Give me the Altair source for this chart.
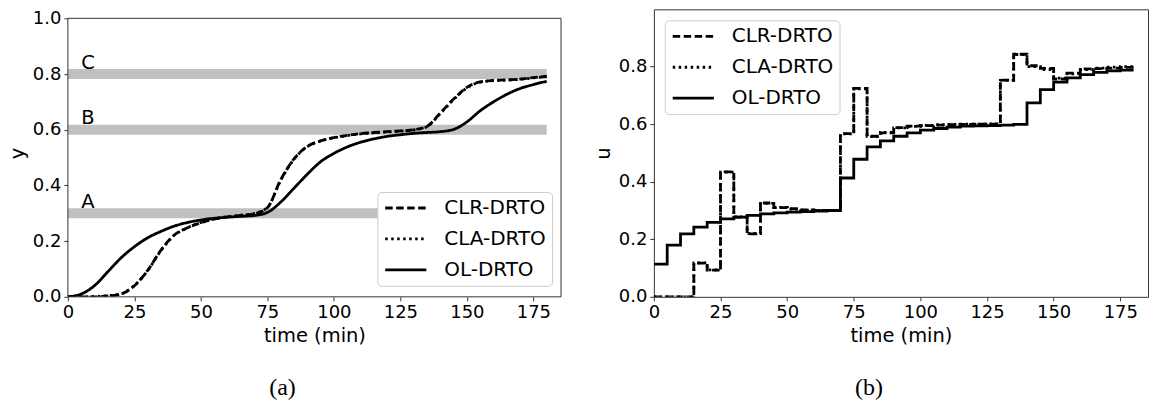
import altair as alt
import pandas as pd

SERIES = ["CLR-DRTO", "CLA-DRTO", "OL-DRTO"]
DASHES = [[7.5, 3.5], [2.5, 3.5], [1, 0]]

# ---- panel (a): output y ----
t_y = [0, 5, 10, 15, 20, 25, 30, 35, 40, 45, 50, 55, 60, 65, 70, 75, 80, 85, 90,
       95, 100, 105, 110, 115, 120, 125, 130, 135, 140, 145, 150, 155, 160, 165,
       170, 175, 180]
y_clr = [0.0, 0.0, 0.0, 0.003, 0.01, 0.04, 0.095, 0.168, 0.222, 0.248, 0.266,
         0.279, 0.287, 0.292, 0.298, 0.32, 0.42, 0.495, 0.54, 0.56, 0.572, 0.58,
         0.586, 0.59, 0.593, 0.596, 0.6, 0.612, 0.66, 0.71, 0.752, 0.772, 0.777,
         0.779, 0.782, 0.787, 0.792]
y_cla = [0.0, 0.0, 0.001, 0.004, 0.011, 0.041, 0.094, 0.166, 0.221, 0.248, 0.267,
         0.28, 0.288, 0.293, 0.299, 0.321, 0.418, 0.494, 0.539, 0.559, 0.571, 0.579,
         0.585, 0.589, 0.592, 0.595, 0.599, 0.611, 0.658, 0.708, 0.75, 0.771, 0.776,
         0.778, 0.781, 0.786, 0.791]
y_ol = [0.0, 0.01, 0.04, 0.09, 0.14, 0.18, 0.212, 0.235, 0.254, 0.267, 0.276,
        0.282, 0.286, 0.289, 0.292, 0.303, 0.34, 0.39, 0.44, 0.485, 0.515, 0.538,
        0.555, 0.567, 0.576, 0.582, 0.587, 0.59, 0.593, 0.601, 0.628, 0.668, 0.7,
        0.727, 0.748, 0.762, 0.774]

band_levels = [0.3, 0.6, 0.8]
band_labels = ["A", "B", "C"]
band_half = 0.018
band_start, band_end = 0, 180
label_x = 5
label_lift = 0.019

# ---- panel (b): input u (piecewise constant, 5 min intervals) ----
t_u = [0, 5, 10, 15, 20, 25, 30, 35, 40, 45, 50, 55, 60, 65, 70, 75, 80, 85, 90,
       95, 100, 105, 110, 115, 120, 125, 130, 135, 140, 145, 150, 155, 160, 165,
       170, 175]
t_u_end = 180
u_clr = [0.0, 0.0, 0.0, 0.117, 0.093, 0.434, 0.277, 0.219, 0.326, 0.31, 0.306,
         0.302, 0.3, 0.3, 0.567, 0.724, 0.558, 0.57, 0.588, 0.593, 0.595, 0.597,
         0.598, 0.599, 0.6, 0.6, 0.753, 0.843, 0.803, 0.794, 0.757, 0.777, 0.792,
         0.793, 0.795, 0.797]
u_cla = [0.0, 0.0, 0.0, 0.118, 0.094, 0.433, 0.278, 0.22, 0.325, 0.311, 0.305,
         0.301, 0.3, 0.3, 0.566, 0.723, 0.557, 0.571, 0.587, 0.592, 0.596, 0.598,
         0.599, 0.6, 0.6, 0.601, 0.752, 0.842, 0.8, 0.79, 0.76, 0.775, 0.79,
         0.795, 0.798, 0.8]
u_ol = [0.114, 0.18, 0.219, 0.242, 0.259, 0.271, 0.277, 0.283, 0.288, 0.292, 0.294,
        0.296, 0.298, 0.3, 0.413, 0.478, 0.521, 0.542, 0.558, 0.57, 0.579, 0.585,
        0.59, 0.593, 0.594, 0.595, 0.597, 0.599, 0.674, 0.72, 0.746, 0.761, 0.772,
        0.78, 0.785, 0.788]

x_ticks = [0, 25, 50, 75, 100, 125, 150, 175]
y_ticks_a = [0.0, 0.2, 0.4, 0.6, 0.8, 1.0]
y_ticks_b = [0.0, 0.2, 0.4, 0.6, 0.8]
x_max = 185.4
y_max_a = 1.0            # top of panel (a) frame
y_scale_top_a = 288 / 279  # panel (a) scale extends above its frame
y_max_b = 0.999

FONT = "DejaVu Sans"
TICK_FS = 18
TITLE_FS = 19.5
LEG_FS = 20
LINE_W = 2.8
EDGE = "#333333"


def long_frame(times, cols):
    rows = []
    for name, vals in zip(SERIES, cols):
        for ti, v in zip(times, vals):
            rows.append({"time": ti, "value": v, "series": name})
    return pd.DataFrame(rows)


df_y = long_frame(t_y, [y_clr, y_cla, y_ol])
df_u = long_frame(t_u + [t_u_end], [v + [v[-1]] for v in (u_clr, u_cla, u_ol)])
df_band = pd.DataFrame({
    "lo": [b - band_half for b in band_levels],
    "hi": [b + band_half for b in band_levels],
    "ly": [b + label_lift for b in band_levels],
    "x0": [band_start] * 3,
    "x1": [band_end] * 3,
    "lx": [label_x] * 3,
    "label": band_labels,
})
df_frame = pd.DataFrame({"x0": [0], "x1": [x_max], "y0": [0], "y1": [y_max_a]})


def legend(lx, ly):
    return alt.Legend(
        title=None, orient="none", legendX=lx, legendY=ly,
        symbolType="stroke", symbolSize=1700, symbolStrokeWidth=LINE_W,
        symbolStrokeColor="black", labelFontSize=LEG_FS, labelFont=FONT,
        labelColor="black", labelOffset=16, padding=6, rowPadding=11,
        clipHeight=20,
        fillColor="white", strokeColor="#cccccc", cornerRadius=4,
    )


def x_axis():
    return alt.Axis(title="time (min)", values=x_ticks, format="d", labelFlush=False)


def caption(text):
    return alt.TitleParams(text, orient="bottom", font="Liberation Serif",
                           fontSize=24, fontWeight="normal", color="black",
                           offset=31, anchor="middle", dx=-32)


xs = alt.Scale(domain=[0, x_max], nice=False, zero=False)
ys_a = alt.Scale(domain=[0, y_scale_top_a], nice=False)

# ---- panel (a) ----
bands = alt.Chart(df_band).mark_rect(color="#c0c0c0").encode(
    x=alt.X("x0:Q", scale=xs, axis=x_axis()),
    x2="x1:Q",
    y=alt.Y("lo:Q", scale=ys_a,
            axis=alt.Axis(title="y", values=y_ticks_a, format=".1f", labelFlush=False)),
    y2="hi:Q",
)
band_text = alt.Chart(df_band).mark_text(
    align="left", baseline="alphabetic", fontSize=TITLE_FS, font=FONT, color="black"
).encode(x=alt.X("lx:Q", scale=xs), y=alt.Y("ly:Q", scale=ys_a), text="label:N")

lines_a = alt.Chart(df_y).mark_line(
    color="black", strokeWidth=LINE_W, interpolate="monotone", clip=True
).encode(
    x=alt.X("time:Q", scale=xs, axis=x_axis()),
    y=alt.Y("value:Q", scale=ys_a,
            axis=alt.Axis(title="y", values=y_ticks_a, format=".1f", labelFlush=False)),
    strokeDash=alt.StrokeDash("series:N",
                              scale=alt.Scale(domain=SERIES, range=DASHES),
                              legend=legend(310, 183)),
    detail="series:N",
)

frame_a = alt.Chart(df_frame).mark_rect(
    fillOpacity=0, stroke=EDGE, strokeWidth=1
).encode(
    x=alt.X("x0:Q", scale=xs), x2="x1:Q",
    y=alt.Y("y0:Q", scale=ys_a), y2="y1:Q",
)

panel_a = alt.layer(bands, band_text, lines_a, frame_a).properties(
    width=494, height=288,
    view=alt.ViewBackground(stroke="transparent"),
    title=caption("(a)"),
)

# ---- panel (b) ----
lines_b = alt.Chart(df_u).mark_line(
    color="black", strokeWidth=LINE_W, interpolate="step-after", clip=True
).encode(
    x=alt.X("time:Q", scale=xs, axis=x_axis()),
    y=alt.Y("value:Q", scale=alt.Scale(domain=[0, y_max_b], nice=False),
            axis=alt.Axis(title="u", values=y_ticks_b, format=".1f", labelFlush=False)),
    strokeDash=alt.StrokeDash("series:N",
                              scale=alt.Scale(domain=SERIES, range=DASHES),
                              legend=legend(11, 11)),
    detail="series:N",
)
panel_b = lines_b.properties(
    width=495, height=288,
    view=alt.ViewBackground(stroke=EDGE, strokeWidth=1),
    title=caption("(b)"),
)

chart = alt.hconcat(panel_a, panel_b, spacing=30).resolve_scale(
    strokeDash="independent"
).resolve_legend(strokeDash="independent").properties(
    padding={"left": 6, "top": 8, "right": 2, "bottom": 2},
    background="white",
).configure_axis(
    grid=False, domain=False, tickSize=4, tickColor=EDGE, tickWidth=1,
    labelFont=FONT, titleFont=FONT, labelFontSize=TICK_FS, titleFontSize=TITLE_FS,
    labelColor="black", titleColor="black", titleFontWeight="normal",
    labelPadding=3, titlePadding=5,
)

chart.save("out.html", embed_options={"renderer": "svg", "actions": False})
